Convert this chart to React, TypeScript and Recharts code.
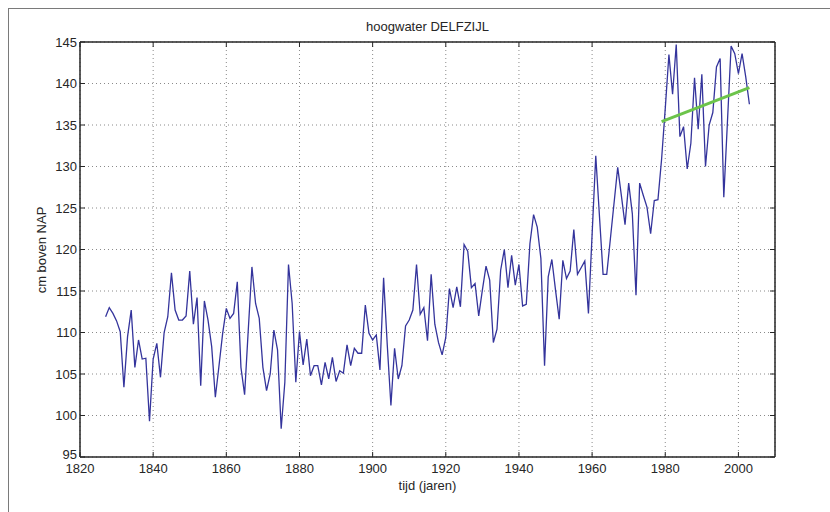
import { LineChart, Line, XAxis, YAxis, CartesianGrid } from "recharts";

// annual mean high water at Delfzijl, cm relative to NAP, one value per year from 1827
const FIRST_YEAR = 1827;
const HIGH_WATER = [
  111.9, 113.0, 112.3, 111.4, 110.1, 103.4, 109.5, 112.7, 105.8, 109.1, 106.8, 106.9, 99.3, // 1827-1839
  106.8, 108.7, 104.6, 110.0, 111.9, 117.2, 112.7, 111.5, 111.5, 112.0, // 1840s
  117.4, 111.0, 114.2, 103.6, 113.8, 111.5, 108.3, 102.2, 106.0, 109.9, // 1850s
  112.9, 111.7, 112.3, 116.1, 105.8, 102.5, 110.3, 117.9, 113.5, 111.7, // 1860s
  105.8, 103.0, 105.0, 110.3, 107.9, 98.4, 104.0, 118.2, 113.5, 104.0, // 1870s
  110.1, 106.1, 109.2, 104.8, 106.0, 106.0, 103.7, 106.4, 104.4, 107.0, // 1880s
  104.1, 105.4, 105.1, 108.5, 106.0, 108.1, 107.5, 107.5, 113.3, 109.9, // 1890s
  109.1, 109.7, 105.5, 116.6, 108.5, 101.2, 108.1, 104.4, 106.0, 110.8, // 1900s
  111.5, 112.7, 118.2, 112.2, 113.0, 109.0, 117.0, 111.0, 108.8, 107.3, // 1910s
  109.4, 115.3, 113.0, 115.5, 113.1, 120.6, 119.8, 115.4, 115.9, 112.0, // 1920s
  115.1, 118.0, 116.3, 108.8, 110.4, 117.5, 120.0, 115.4, 119.3, 115.7, // 1930s
  118.2, 113.2, 113.4, 120.7, 124.2, 122.7, 118.9, 106.0, 116.7, 118.8, // 1940s
  115.1, 111.6, 118.7, 116.5, 117.4, 122.4, 117.0, 117.8, 118.6, 112.3, // 1950s
  121.8, 131.3, 124.1, 117.0, 117.0, 121.3, 125.6, 129.9, 126.5, 123.0, // 1960s
  128.0, 124.3, 114.5, 128.0, 126.5, 125.1, 121.9, 125.9, 126.0, 130.9, // 1970s
  137.0, 143.5, 138.7, 144.7, 133.6, 134.8, 129.7, 132.8, 140.7, 134.5, // 1980s
  141.1, 130.0, 135.0, 136.5, 142.0, 143.0, 126.3, 135.4, 144.5, 143.6, // 1990s
  141.2, 143.6, 140.8, 137.5, // 2000-2003
];

// linear trend over the last period
const TREND_YEARS = [1979, 2003];
const TREND_CM = [135.4, 139.5];

const X_TICKS = [1820, 1840, 1860, 1880, 1900, 1920, 1940, 1960, 1980, 2000];
const Y_TICKS = [95, 100, 105, 110, 115, 120, 125, 130, 135, 140, 145];

const series = HIGH_WATER.map((cm, i) => ({ year: FIRST_YEAR + i, cm }));
const trend = TREND_YEARS.map((year, i) => ({ year, trend: TREND_CM[i] }));

const FONT = "'Liberation Sans', Arial, Helvetica, sans-serif";
const INK = "#262626";
const axisLine = { stroke: INK, strokeWidth: 1.5 };
const tickLine = { stroke: INK, strokeWidth: 1 };
const tickText = { fill: INK, fontSize: 13, fontFamily: FONT };
const noLabel = () => "";

// y tick label; the lowest one sits a little higher so it clears "1820"
function LeftTick(props: any) {
  const { x, y, payload } = props;
  const lift = payload.value === Y_TICKS[0] ? -3 : 0;
  return (
    <text
      x={x}
      y={y + lift}
      dy="0.355em"
      textAnchor="end"
      fill={INK}
      fontSize={13}
      fontFamily={FONT}
    >
      {payload.value}
    </text>
  );
}

export default function App() {
  return (
    <div
      style={{
        position: "absolute",
        left: 0,
        top: 0,
        width: 830,
        height: 512,
        background: "#fff",
        fontFamily: FONT,
        color: INK,
      }}
    >
      {/* figure frame, only left and top edges fall inside the picture */}
      <div
        style={{
          position: "absolute",
          left: 8,
          top: 8,
          right: 0,
          bottom: 0,
          borderLeft: "1px solid #7a7a7a",
          borderTop: "1px solid #7a7a7a",
        }}
      />
      <LineChart
        width={830}
        height={512}
        data={series}
        margin={{ top: 41, right: 54, bottom: 54, left: 79 }}
        style={{ position: "absolute", left: 0, top: 0 }}
      >
        <CartesianGrid
          xAxisId="b"
          yAxisId="l"
          stroke="#8a8a8a"
          strokeDasharray="1 3"
        />
        <XAxis
          xAxisId="b"
          type="number"
          dataKey="year"
          domain={[1820, 2010]}
          ticks={X_TICKS}
          interval={0}
          allowDataOverflow
          height={1}
          tickSize={-5}
          tickMargin={12}
          axisLine={axisLine}
          tickLine={tickLine}
          tick={tickText}
        />
        <XAxis
          xAxisId="t"
          orientation="top"
          type="number"
          dataKey="year"
          domain={[1820, 2010]}
          ticks={X_TICKS}
          interval={0}
          allowDataOverflow
          height={1}
          tickSize={-5}
          tickFormatter={noLabel}
          axisLine={axisLine}
          tickLine={tickLine}
          tick={tickText}
        />
        <YAxis
          yAxisId="l"
          type="number"
          domain={[95, 145]}
          ticks={Y_TICKS}
          interval={0}
          allowDataOverflow
          width={1}
          tickSize={-5}
          tickMargin={8}
          axisLine={axisLine}
          tickLine={tickLine}
          tick={<LeftTick />}
        />
        <YAxis
          yAxisId="r"
          orientation="right"
          type="number"
          domain={[95, 145]}
          ticks={Y_TICKS}
          interval={0}
          allowDataOverflow
          width={1}
          tickSize={-5}
          tickFormatter={noLabel}
          axisLine={axisLine}
          tickLine={tickLine}
          tick={tickText}
        />
        <Line
          xAxisId="b"
          yAxisId="l"
          type="linear"
          dataKey="cm"
          stroke="#34349c"
          strokeWidth={1.3}
          dot={false}
          activeDot={false}
          isAnimationActive={false}
        />
        <Line
          xAxisId="b"
          yAxisId="l"
          type="linear"
          data={trend}
          dataKey="trend"
          stroke="#6cc44a"
          strokeWidth={3}
          dot={false}
          activeDot={false}
          isAnimationActive={false}
        />
      </LineChart>

      <div
        style={{
          position: "absolute",
          left: 80,
          width: 695,
          top: 19,
          textAlign: "center",
          fontSize: 13,
          lineHeight: "16px",
        }}
      >
        hoogwater DELFZIJL
      </div>
      <div
        style={{
          position: "absolute",
          left: 80,
          width: 695,
          top: 478,
          textAlign: "center",
          fontSize: 13,
          lineHeight: "16px",
        }}
      >
        tijd (jaren)
      </div>
      <div
        style={{
          position: "absolute",
          left: 42 - 100,
          top: 250 - 8,
          width: 200,
          textAlign: "center",
          fontSize: 13,
          lineHeight: "16px",
          transform: "rotate(-90deg)",
        }}
      >
        cm boven NAP
      </div>
    </div>
  );
}
